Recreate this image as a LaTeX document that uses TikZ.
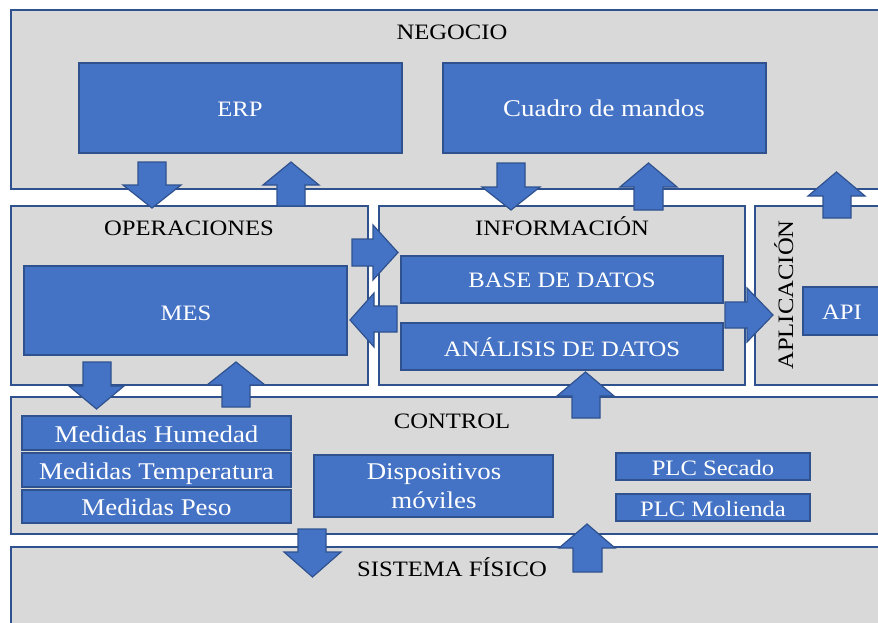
\documentclass[tikz,border=0pt]{standalone}
\usepackage{fontspec}
\setmainfont{Liberation Serif}[FakeStretch=1.12]
\usetikzlibrary{fit}
\definecolor{gfill}{HTML}{D9D9D9}
\definecolor{bline}{HTML}{2F528F}
\definecolor{bfill}{HTML}{4472C4}
\tikzset{
  layerbox/.style={draw=bline, fill=gfill, line width=1.5pt, inner sep=0pt},
  bluebox/.style={draw=bline, fill=bfill, line width=1.5pt, inner sep=0pt},
  ltext/.style={font=\fontsize{22}{26}\selectfont, text=black, inner sep=0pt, anchor=base},
  wtext/.style={font=\fontsize{22}{26}\selectfont, text=white, inner sep=0pt, anchor=base},
  wtextl/.style={font=\fontsize{24}{28}\selectfont, text=white, inner sep=0pt, anchor=base},
  barrow/.style={draw=bline, fill=bfill, line width=1.2pt, line join=miter},
}
% vertical block arrow: shaft x1,x2; shaft end y; wing x1,x2; wing y; tip y
\newcommand{\vertarrow}[7]{\draw[barrow] (#1,#3) -- (#2,#3) -- (#2,#6) -- (#5,#6) -- ({(#4+#5)/2},#7) -- (#4,#6) -- (#1,#6) -- cycle;}
% horizontal block arrow: shaft y1,y2; shaft end x; wing y1,y2; wing x; tip x
\newcommand{\horzarrow}[7]{\draw[barrow] (#3,#1) -- (#3,#2) -- (#6,#2) -- (#6,#5) -- (#7,{(#4+#5)/2}) -- (#6,#4) -- (#6,#1) -- cycle;}
\begin{document}
\begin{tikzpicture}[x=1pt,y=-1pt]
\clip (0,0) rectangle (878,623);
\fill[white] (0,0) rectangle (878,623);
% layers
\node[layerbox, fit={(11,10) (892,189)}] (negocio) {};
\node[layerbox, fit={(11,206) (368,385)}] (operaciones) {};
\node[layerbox, fit={(379,206) (745,385)}] (informacion) {};
\node[layerbox, fit={(755,206) (892,385)}] (aplicacion) {};
\node[layerbox, fit={(11,397) (892,534)}] (control) {};
\node[layerbox, fit={(11,547) (892,640)}] (fisico) {};
% inner boxes
\node[bluebox, fit={(79,63) (402,153)}] (erp) {};
\node[bluebox, fit={(443,63) (766,153)}] (cuadro) {};
\node[bluebox, fit={(24,266) (347,355)}] (mes) {};
\node[bluebox, fit={(401,256) (723,303)}] (bd) {};
\node[bluebox, fit={(401,323) (723,370)}] (ad) {};
\node[bluebox, fit={(803,287) (892,335)}] (api) {};
\node[bluebox, fit={(22,416) (291,450)}] (mh) {};
\node[bluebox, fit={(22,453) (291,487)}] (mt) {};
\node[bluebox, fit={(22,490) (291,523)}] (mp) {};
\node[bluebox, fit={(314,455) (553,517)}] (disp) {};
\node[bluebox, fit={(616,453) (810,480)}] (plcs) {};
\node[bluebox, fit={(616,494) (810,521)}] (plcm) {};
% labels
\node[ltext] (tneg) at (452,40) {NEGOCIO};
\node[ltext] (tope) at (189,235) {OPERACIONES};
\node[ltext] (tinf) at (562,235) {INFORMACIÓN};
\node[ltext, rotate=90] (tapl) at (793,295) {APLICACIÓN};
\node[ltext] (tcon) at (452,428) {CONTROL};
\node[ltext] (tfis) at (452,576) {SISTEMA FÍSICO};
\node[wtext] (terp) at (240,117) {ERP};
\node[wtextl] (tcua) at (604,117) {Cuadro de mandos};
\node[wtext] (tmes) at (186,320) {MES};
\node[wtext] (tbd) at (562,287) {BASE DE DATOS};
\node[wtext] (tad) at (562,356) {ANÁLISIS DE DATOS};
\node[wtext] (tapi) at (842,319) {API};
\node[wtextl] (tmh) at (156.5,442) {Medidas Humedad};
\node[wtextl] (tmt) at (156.5,479) {Medidas Temperatura};
\node[wtextl] (tmp) at (156.5,515) {Medidas Peso};
\node[wtextl] (td1) at (434,479) {Dispositivos};
\node[wtextl] (td2) at (434,508) {móviles};
\node[wtext] (tps) at (713,475) {PLC Secado};
\node[wtext] (tpm) at (713,516) {PLC Molienda};
% block arrows
\vertarrow{138}{166}{162}{123}{181}{185}{208}
\vertarrow{277}{305}{206}{263}{319}{185}{162}
\vertarrow{497}{525}{163}{482}{540}{187}{210}
\vertarrow{634}{663}{210}{620}{677}{187}{163}
\vertarrow{823}{851}{218}{808}{865}{196}{172}
\vertarrow{83}{111}{362}{69}{124}{386}{409}
\vertarrow{222}{250}{407}{207}{265}{385}{362}
\vertarrow{572}{600}{418}{557}{614}{396}{372}
\vertarrow{298}{326}{529}{284}{341}{552}{577}
\vertarrow{573}{602}{572}{559}{615}{548}{524}
\horzarrow{239}{266}{352}{225}{280}{373}{398}
\horzarrow{306}{332}{397}{293}{347}{374}{350}
\horzarrow{302}{328}{725}{288}{342}{747}{773}
\end{tikzpicture}
\end{document}
